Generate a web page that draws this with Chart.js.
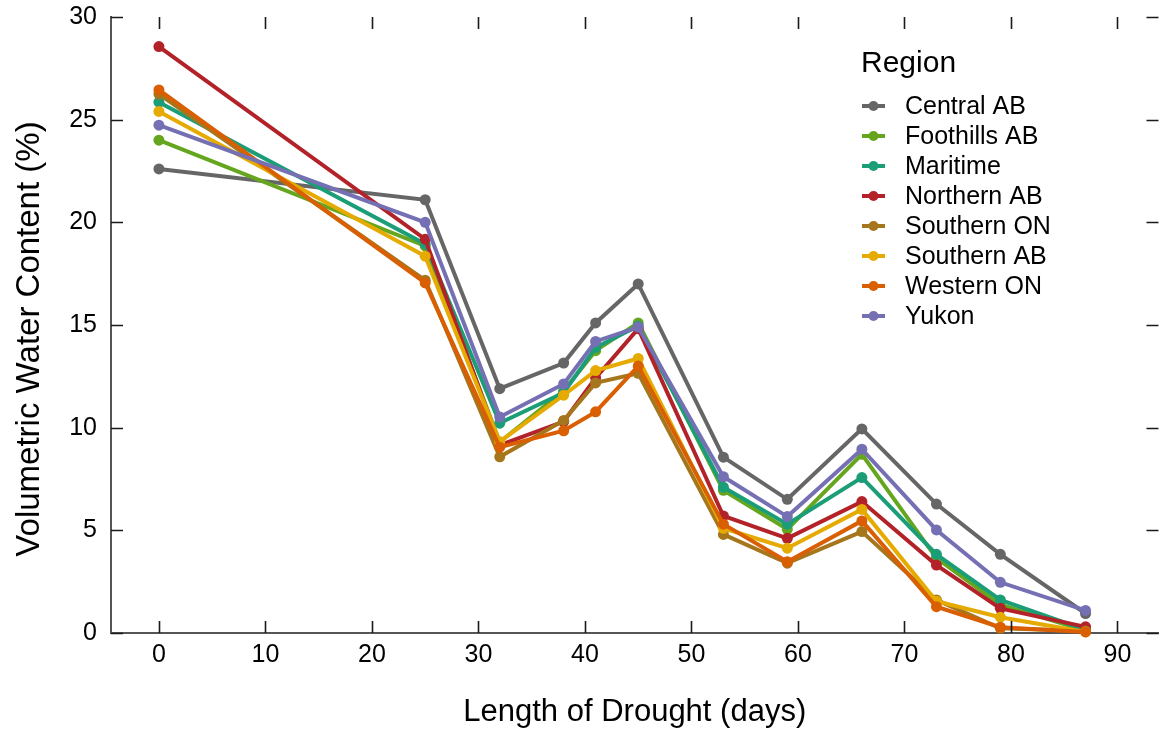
<!DOCTYPE html>
<html>
<head>
<meta charset="utf-8">
<title>Volumetric Water Content by Region</title>
<script src="https://cdn.jsdelivr.net/npm/chart.js@4.4.1/dist/chart.umd.min.js"></script>
<style>
    html, body { margin: 0; padding: 0; background: #fff; }
    #wrap { width: 1164px; height: 731px; }
</style>
</head>
<body>
<div id="wrap"><canvas id="droughtChart" width="1164" height="731"></canvas></div>
<script>
// days since start of drought
const days = [0, 25, 32, 38, 41, 45, 53, 59, 66, 73, 79, 87];

const regions = ["Central AB", "Foothills AB", "Maritime", "Northern AB",
                 "Southern ON", "Southern AB", "Western ON", "Yukon"];

const centralAB   = [22.6, 21.1, 11.9, 13.15, 15.1, 17.0, 8.56, 6.51, 9.94, 6.28, 3.83, 0.95];
const foothillsAB = [24.0, 18.85, 9.3, 11.8, 13.75, 15.1, 6.95, 5.05, 8.7, 3.65, 1.38, 0.12];
const maritime    = [25.85, 18.95, 10.22, 11.7, 13.9, 14.95, 7.1, 5.3, 7.57, 3.83, 1.61, 0.15];
const northernAB  = [28.56, 19.18, 9.15, 10.3, 12.42, 14.82, 5.7, 4.61, 6.4, 3.31, 1.2, 0.3];
const southernON  = [26.25, 17.18, 8.58, 10.35, 12.18, 12.65, 4.8, 3.4, 4.94, 1.61, 0.23, 0.1];
const southernAB  = [25.4, 18.35, 9.32, 11.58, 12.78, 13.37, 5.1, 4.13, 6.02, 1.55, 0.77, 0.05];
const westernON   = [26.45, 17.05, 9.05, 9.85, 10.77, 13.0, 5.3, 3.47, 5.46, 1.28, 0.28, 0.05];
const yukon       = [24.73, 20.0, 10.52, 12.13, 14.2, 14.9, 7.61, 5.67, 8.95, 5.02, 2.47, 1.1];

const seriesValues = [centralAB, foothillsAB, maritime, northernAB, southernON, southernAB, westernON, yukon];
const colors = ["#666666", "#66A61E", "#1B9E77", "#B22228", "#A6761D", "#E6AB02", "#D95F02", "#7570B3"];

const xTicks = [0, 10, 20, 30, 40, 50, 60, 70, 80, 90];
const yTicks = [0, 5, 10, 15, 20, 25, 30];

const FONT = "'Liberation Sans', Arial, Helvetica, sans-serif";

// inward tick marks on all four sides of the panel
const frameTicks = {
    id: "frameTicks",
    afterDatasetsDraw(chart) {
        const { ctx, chartArea: a, scales: { x, y } } = chart;
        const len = 12;
        ctx.save();
        ctx.strokeStyle = "#1a1a1a";
        ctx.lineWidth = 1.6;
        ctx.beginPath();
        x.ticks.forEach(t => {
            const px = Math.round(x.getPixelForValue(t.value)) + 0.5;
            ctx.moveTo(px, a.bottom); ctx.lineTo(px, a.bottom - len);
            ctx.moveTo(px, a.top); ctx.lineTo(px, a.top + len);
        });
        y.ticks.forEach(t => {
            const py = Math.round(y.getPixelForValue(t.value)) + 0.5;
            ctx.moveTo(a.left, py); ctx.lineTo(a.left + len, py);
            ctx.moveTo(a.right, py); ctx.lineTo(a.right - len, py);
        });
        ctx.stroke();
        ctx.restore();
    }
};

// y axis title, drawn by hand so it can sit a bit below the panel centre like the original
const yTitle = {
    id: "yTitle",
    afterDraw(chart) {
        const ctx = chart.ctx;
        ctx.save();
        ctx.translate(30, 339);
        ctx.rotate(-Math.PI / 2);
        ctx.fillStyle = "#000";
        ctx.font = "33px " + FONT;
        ctx.textAlign = "center";
        ctx.textBaseline = "middle";
        ctx.fillText("Volumetric Water Content (%)", 0, 0);
        ctx.restore();
    }
};

// legend with a title, drawn inside the panel (top right)
const regionLegend = {
    id: "regionLegend",
    afterDraw(chart) {
        const ctx = chart.ctx;
        const left = 861, top = 64, rowH = 30, firstRow = 106;
        ctx.save();
        ctx.fillStyle = "#000";
        ctx.textBaseline = "middle";
        ctx.textAlign = "left";
        ctx.font = "30px " + FONT;
        ctx.fillText("Region", left, top);
        ctx.font = "25px " + FONT;
        chart.data.datasets.forEach((ds, i) => {
            const cy = firstRow + i * rowH;
            ctx.strokeStyle = ds.borderColor;
            ctx.lineWidth = 4;
            ctx.beginPath();
            ctx.moveTo(left + 1, cy);
            ctx.lineTo(left + 24, cy);
            ctx.stroke();
            ctx.fillStyle = ds.borderColor;
            ctx.beginPath();
            ctx.arc(left + 12.5, cy, 5, 0, Math.PI * 2);
            ctx.fill();
            ctx.fillStyle = "#000";
            ctx.fillText(ds.label, left + 44, cy + 1);
        });
        ctx.restore();
    }
};

const datasets = regions.map((name, i) => ({
    label: name,
    data: days.map((d, j) => ({ x: d, y: seriesValues[i][j] })),
    borderColor: colors[i],
    backgroundColor: colors[i],
    borderWidth: 4,
    pointRadius: 5.5,
    pointHoverRadius: 5.5,
    pointBorderWidth: 0,
    tension: 0,
    clip: false,
    order: regions.length - i
}));

const ctx = document.getElementById("droughtChart").getContext("2d");
const droughtChart = new Chart(ctx, {
    type: "line",
    data: { datasets: datasets },
    plugins: [frameTicks, yTitle, regionLegend],
    options: {
        responsive: false,
        animation: false,
        devicePixelRatio: 1,
        layout: { padding: { top: 17, right: 2, left: 0, bottom: 0 } },
        plugins: {
            legend: { display: false },
            tooltip: { enabled: false }
        },
        scales: {
            x: {
                type: "linear",
                min: -4.5,
                max: 93.85,
                afterFit: s => { s.height = 98; },
                afterBuildTicks: s => { s.ticks = xTicks.map(v => ({ value: v })); },
                grid: { display: false, drawTicks: false },
                border: { display: true, color: "#555", width: 2 },
                ticks: {
                    padding: 7,
                    color: "#000",
                    font: { family: FONT, size: 25 },
                    maxRotation: 0
                },
                title: {
                    display: true,
                    text: "Length of Drought (days)",
                    color: "#000",
                    font: { family: FONT, size: 31 },
                    padding: { top: 0, bottom: 0 }
                }
            },
            y: {
                min: 0,
                max: 30,
                afterFit: s => { s.width = 111; },
                afterBuildTicks: s => { s.ticks = yTicks.map(v => ({ value: v })); },
                grid: { display: false, drawTicks: false },
                border: { display: true, color: "#555", width: 2 },
                ticks: {
                    padding: 14,
                    color: "#000",
                    // small line height keeps the label padding from pushing the panel down
                    font: { family: FONT, size: 25, lineHeight: 0.1 }
                },
                title: { display: false }
            }
        }
    }
});
</script>
</body>
</html>
